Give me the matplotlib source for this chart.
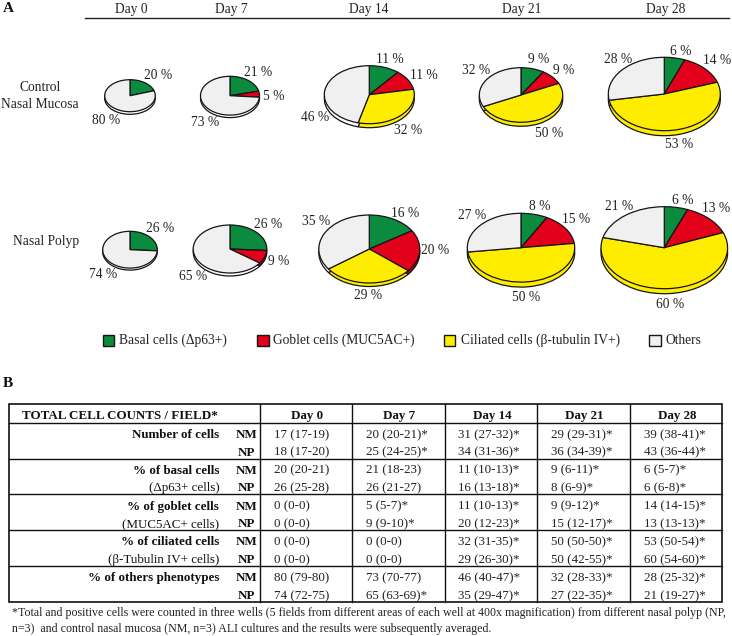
import matplotlib
matplotlib.use("Agg")
import matplotlib.pyplot as plt
from matplotlib.patches import Rectangle

plt.rcParams['font.family'] = ['Liberation Serif', 'DejaVu Sans']

# ---------- data ----------
days = ["Day 0", "Day 7", "Day 14", "Day 21", "Day 28"]
cell_types = ["Basal cells (Δp63+)", "Goblet cells (MUC5AC+)", "Ciliated cells (β-tubulin IV+)", "Others"]

nm_basal = [20, 21, 11, 9, 6]
nm_goblet = [0, 5, 11, 9, 14]
nm_ciliated = [0, 0, 32, 50, 53]
nm_others = [80, 73, 46, 32, 28]

np_basal = [26, 26, 16, 8, 6]
np_goblet = [0, 9, 20, 15, 13]
np_ciliated = [0, 0, 29, 50, 60]
np_others = [74, 65, 35, 27, 21]

table_title = "TOTAL CELL COUNTS / FIELD*"
row_main = ["Number of cells", "", "% of basal cells", "(Δp63+ cells)", "% of goblet cells",
            "(MUC5AC+ cells)", "% of ciliated cells", "(β-Tubulin IV+ cells)", "% of others phenotypes", ""]
row_bold = [True, False, True, False, True, False, True, False, True, False]
row_group = ["NM", "NP"] * 5

col_day0 = ["17 (17-19)", "18 (17-20)", "20 (20-21)", "26 (25-28)", "0 (0-0)", "0 (0-0)", "0 (0-0)", "0 (0-0)",
            "80 (79-80)", "74 (72-75)"]
col_day7 = ["20 (20-21)*", "25 (24-25)*", "21 (18-23)", "26 (21-27)", "5 (5-7)*", "9 (9-10)*", "0 (0-0)", "0 (0-0)",
            "73 (70-77)", "65 (63-69)*"]
col_day14 = ["31 (27-32)*", "34 (31-36)*", "11 (10-13)*", "16 (13-18)*", "11 (10-13)*", "20 (12-23)*",
             "32 (31-35)*", "29 (26-30)*", "46 (40-47)*", "35 (29-47)*"]
col_day21 = ["29 (29-31)*", "36 (34-39)*", "9 (6-11)*", "8 (6-9)*", "9 (9-12)*", "15 (12-17)*",
             "50 (50-50)*", "50 (42-55)*", "32 (28-33)*", "27 (22-35)*"]
col_day28 = ["39 (38-41)*", "43 (36-44)*", "6 (5-7)*", "6 (6-8)*", "14 (14-15)*", "13 (13-13)*",
             "53 (50-54)*", "60 (54-60)*", "28 (25-32)*", "21 (19-27)*"]
footnote = ["*Total and positive cells were counted in three wells (5 fields from different areas of each well at 400x magnification) from different nasal polyp (NP,",
            "n=3)  and control nasal mucosa (NM, n=3) ALI cultures and the results were subsequently averaged."]

# ---------- style and layout (pixels) ----------
W, H = 732, 636
colors = ["#0B8B3E", "#E2001A", "#FFED00", "#F0F0F0"]
rim_colors = ["#0B6B30", "#A80014", "#FFED00", "#FFFFFF"]
edge = "#151515"

# cx, cy, rx, ry, depth
nm_geom = [(130, 95.7, 25.3, 16, 2.6), (230, 95.7, 29.5, 19.4, 2.5), (369.3, 94.7, 45, 29, 4),
           (521, 95, 41.7, 27.3, 4), (664.3, 94, 56, 36.7, 5)]
np_geom = [(130, 249.7, 27.3, 18.4, 2), (230, 249, 36.8, 24, 3), (369.3, 249, 50.5, 34, 3.5),
           (521, 247.7, 53.7, 34.4, 5), (664.3, 247.7, 63.3, 41, 5)]

# label centres per day, in order basal, goblet, ciliated, others
nm_lab = [[(157.7, 75), None, None, (105.7, 120)],
          [(257.7, 72), (273.3, 96), None, (205.3, 122)],
          [(390, 59), (423.7, 75), (408.3, 130), (315.3, 117)],
          [(539, 59), (564, 70), (548.7, 133.3), (475.7, 70)],
          [(681, 50.7), (716.7, 60.3), (679.3, 144.3), (618.3, 58.7)]]
np_lab = [[(160, 227.7), None, None, (103, 274)],
          [(267.7, 224.3), (278.7, 261), None, (192.7, 275.7)],
          [(405, 212.7), (435.3, 249.7), (368, 295), (316, 220.7)],
          [(539.3, 206), (575.7, 219.3), (526, 296.7), (471.7, 215)],
          [(682.3, 200), (716, 208), (670, 303.7), (619.3, 206)]]

fig = plt.figure(figsize=(W / 100, H / 100), dpi=100, facecolor="white")


def draw_pie(vals, geom):
    cx, cy, rx, ry, d = geom
    ax = fig.add_axes([(cx - rx) / W, 1 - (cy + ry + d) / H, 2 * rx / W, (2 * ry + d) / H])
    used = [i for i, v in enumerate(vals) if v > 0]
    v = [vals[i] for i in used]
    off = d / ry
    ax.pie(v, colors=[rim_colors[i] for i in used], startangle=90, counterclock=False, radius=1, center=(0, -off),
           wedgeprops=dict(edgecolor=edge, linewidth=0.9, clip_on=False))
    ax.pie(v, colors=[colors[i] for i in used], startangle=90, counterclock=False, radius=1, center=(0, 0),
           wedgeprops=dict(edgecolor=edge, linewidth=0.9, clip_on=False))
    ax.set_aspect("auto")
    ax.set_xlim(-1, 1)
    ax.set_ylim(-1 - off, 1)
    ax.axis("off")


nm_all = list(zip(nm_basal, nm_goblet, nm_ciliated, nm_others))
np_all = list(zip(np_basal, np_goblet, np_ciliated, np_others))
for vals, geom in zip(nm_all + np_all, nm_geom + np_geom):
    draw_pie(vals, geom)

ov = fig.add_axes([0, 0, 1, 1], facecolor="none")
ov.set_xlim(0, W)
ov.set_ylim(H, 0)
ov.axis("off")

FS = 9.75
TS = 9.35
DY = 4.0   # centre of the digits to the baseline
TXT = "#222222"


def put(x, y, s, ha="center", size=FS, weight="normal", color=TXT):
    ov.text(x, y + DY, s, ha=ha, va="baseline", fontsize=size, fontweight=weight, color=color)


for vals, labs in zip(nm_all + np_all, nm_lab + np_lab):
    for v, p in zip(vals, labs):
        if p is not None:
            put(p[0], p[1], f"{v} %")

# header of panel A
put(3, 8, "A", ha="left", size=11, weight="bold", color="#111111")
for d, x in zip(days, [131, 231, 369, 522, 665.3]):
    put(x, 8.7, d)
ov.plot([84.7, 728.7], [18, 18], color="#222222", lw=1.0)

put(40, 87.3, "Control")
put(40, 103.7, "Nasal Mucosa")
put(46, 240.7, "Nasal Polyp")

# legend
for name, col, bx, tx in zip(cell_types, colors, [102.7, 257.3, 444, 649.3], [119.3, 273.3, 460.7, 665.7]):
    ov.add_patch(Rectangle((bx, 334.7), 11.3, 11, facecolor=col, edgecolor=edge, lw=1.0))
    put(tx, 340.3, name, ha="left")

# panel B
put(3, 383.3, "B", ha="left", size=11, weight="bold", color="#111111")
L, R, T, B = 8.7, 722.3, 403.7, 601.7
ov.add_patch(Rectangle((L, T), R - L, B - T, fill=False, edgecolor="#111111", lw=1.2))
for y in [422.7, 458.7, 494.3, 530.3, 566]:
    ov.plot([L, R], [y, y], color="#111111", lw=1.0)
for x in [259.7, 352.3, 444.7, 537.3, 629.7]:
    ov.plot([x, x], [T, B], color="#111111", lw=1.0)

put(22, 415.3, table_title, ha="left", size=TS, weight="bold", color="#111111")
for d, x in zip(days, [306.7, 399.3, 492, 584, 676.7]):
    put(x, 415.3, d, size=TS, weight="bold", color="#111111")

row_y = [434, 451.7, 469.7, 487.3, 505.7, 523.3, 541.3, 559, 577, 595]
cols = [col_day0, col_day7, col_day14, col_day21, col_day28]
col_x = [273.7, 366, 458.3, 551, 643.7]
for i, y in enumerate(row_y):
    put(219.3, y, row_main[i], ha="right", size=TS, weight="bold" if row_bold[i] else "normal", color="#111111")
    put(246.7, y, row_group[i], size=TS, weight="bold", color="#111111")
    for c, x in zip(cols, col_x):
        put(x, y, c[i], ha="left", size=TS)

put(12, 611.7, footnote[0], ha="left", size=8.52)
put(12, 628.3, footnote[1], ha="left", size=8.52)

fig.savefig("out.png", dpi=100)
